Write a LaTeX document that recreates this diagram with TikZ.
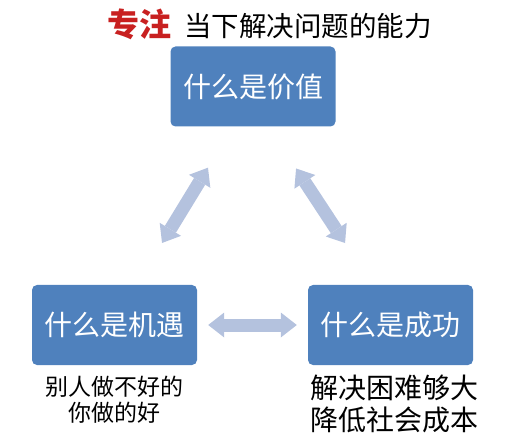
\documentclass[tikz,border=0pt]{standalone}
\usepackage{fontspec}
\setmainfont{Noto Sans CJK SC}
\usetikzlibrary{arrows.meta}

\definecolor{boxblue}{RGB}{79,129,189}
\definecolor{arrowblue}{RGB}{180,194,222}
\definecolor{titlered}{RGB}{200,32,32}

\begin{document}
\begin{tikzpicture}
    [
      x=1pt,y=-1pt,
      inner sep=0pt,
      box/.style={fill=boxblue,rectangle,rounded corners=5pt,
        minimum width=165pt,minimum height=80pt,text=white,
        font=\fontsize{28}{28}\selectfont},
      note/.style={align=center,text=black},
      link/.style={{Triangle[width=25pt,length=16pt,line width=0pt]}-{Triangle[width=25pt,length=16pt,line width=0pt]},
        line width=13pt,draw=arrowblue}
    ]
    \useasboundingbox (0,0) rectangle (516,443);

    \node at (107,24) [anchor=west] (title) {%
      {\color{titlered}\bfseries\fontsize{32}{32}\selectfont 专注}\hspace{13pt}%
      {\fontsize{27.5}{28}\selectfont 当下解决问题的能力}};

    \node at (253,86.5) [box] (value) {什么是价值};
    \node at (114.5,325) [box] (chance) {什么是机遇};
    \node at (390.5,325) [box] (success) {什么是成功};

    \node at (114,400) [note,font=\fontsize{23}{26}\selectfont] (chancenote)
      {别人做不好的\\你做的好};
    \node at (394,404) [note,font=\fontsize{28}{32}\selectfont] (successnote)
      {解决困难够大\\降低社会成本};

    \draw [link,shorten <=49pt,shorten >=48pt]
      ([xshift=22pt]chance.north) -- ([xshift=-20pt]value.south);
    \draw [link,shorten <=50pt,shorten >=50pt]
      ([xshift=15.6pt]value.south) -- ([xshift=-18pt]success.north);
    \draw [link,shorten <=11pt,shorten >=11pt] (chance) -- (success);
  \end{tikzpicture}
\end{document}
